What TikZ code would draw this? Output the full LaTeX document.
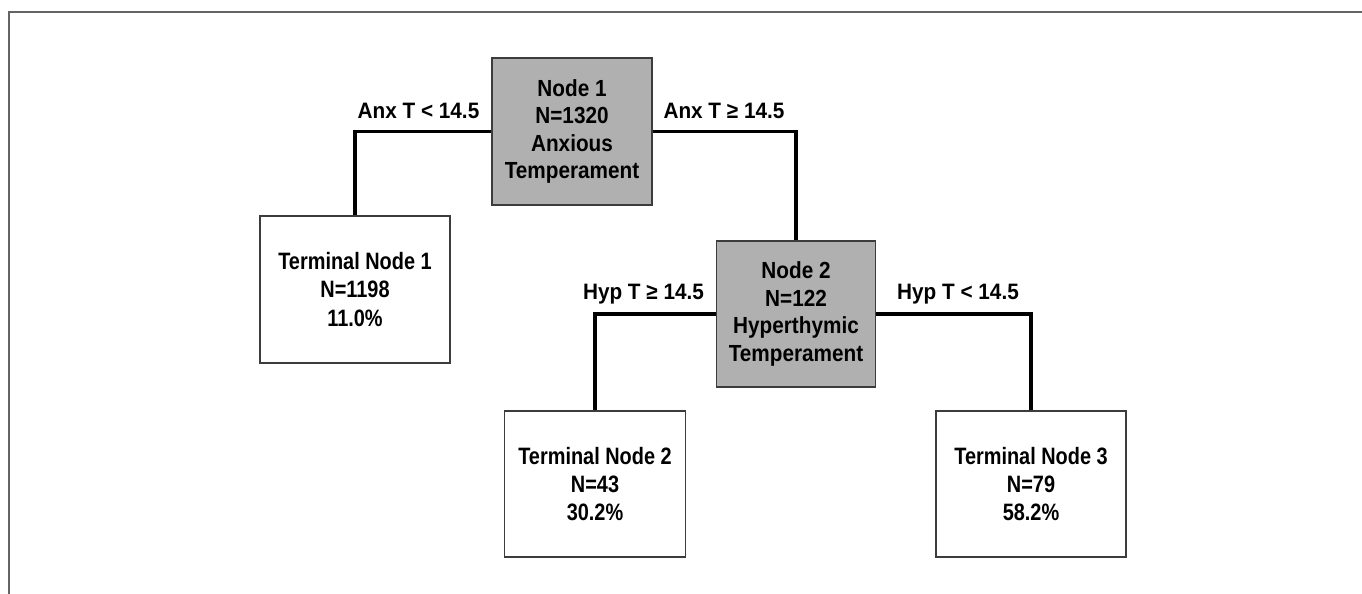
\documentclass[tikz,border=0pt]{standalone}
\usepackage{fontspec}
\setmainfont{Liberation Sans}
\newfontfamily\termfont[FakeStretch=0.84]{Liberation Sans}
\newfontfamily\splitfont[FakeStretch=0.89]{Liberation Sans}
\newfontfamily\condfont[FakeStretch=0.93]{Liberation Sans}
\definecolor{boxgray}{RGB}{176,176,176}
\definecolor{edgegray}{RGB}{60,60,60}
\definecolor{framegray}{RGB}{100,100,100}
\begin{document}
\begin{tikzpicture}[x=1pt,y=-1pt,
  txt/.style={align=center, inner sep=0pt},
  splitbox/.style={txt, font=\splitfont\bfseries\fontsize{23.3}{27.5}\selectfont, draw=edgegray, line width=1.6pt, fill=boxgray},
  termbox/.style={txt, font=\termfont\bfseries\fontsize{23.7}{28.2}\selectfont, draw=edgegray, line width=1.6pt, fill=white},
  link/.style={line width=3.5pt, black},
  cond/.style={font=\condfont\bfseries\fontsize{22.3}{26}\selectfont, inner sep=0pt, anchor=base}]
\useasboundingbox (0,0) rectangle (1362,594);
\draw[framegray, line width=2pt] (8.5,594) -- (8.5,12.5) -- (1362,12.5);

\node[splitbox, minimum width=160pt, minimum height=147pt] (n1) at (572,131.5)
  {Node 1\\N=1320\\Anxious\\Temperament};
\node[splitbox, minimum width=159pt, minimum height=146pt] (n2) at (796,314)
  {Node 2\\N=122\\Hyperthymic\\Temperament};
\node[termbox, minimum width=190pt, minimum height=147pt] (t1) at (355,289.5)
  {Terminal Node 1\\N=1198\\11.0\%};
\node[termbox, minimum width=181pt, minimum height=146pt] (t2) at (595,484)
  {Terminal Node 2\\N=43\\30.2\%};
\node[termbox, minimum width=190pt, minimum height=146pt] (t3) at (1031,484)
  {Terminal Node 3\\N=79\\58.2\%};

\draw[link] (n1.west) -| (t1.north);
\draw[link] (n1.east) -| (n2.north);
\draw[link] (n2.west) -| (t2.north);
\draw[link] (n2.east) -| (t3.north);

\node[cond] (c1) at (418.5,118) {Anx T < 14.5};
\node[cond] (c2) at (724,118) {Anx T ≥ 14.5};
\node[cond] (c3) at (643.5,299) {Hyp T ≥ 14.5};
\node[cond] (c4) at (958,299) {Hyp T < 14.5};
\end{tikzpicture}
\end{document}
